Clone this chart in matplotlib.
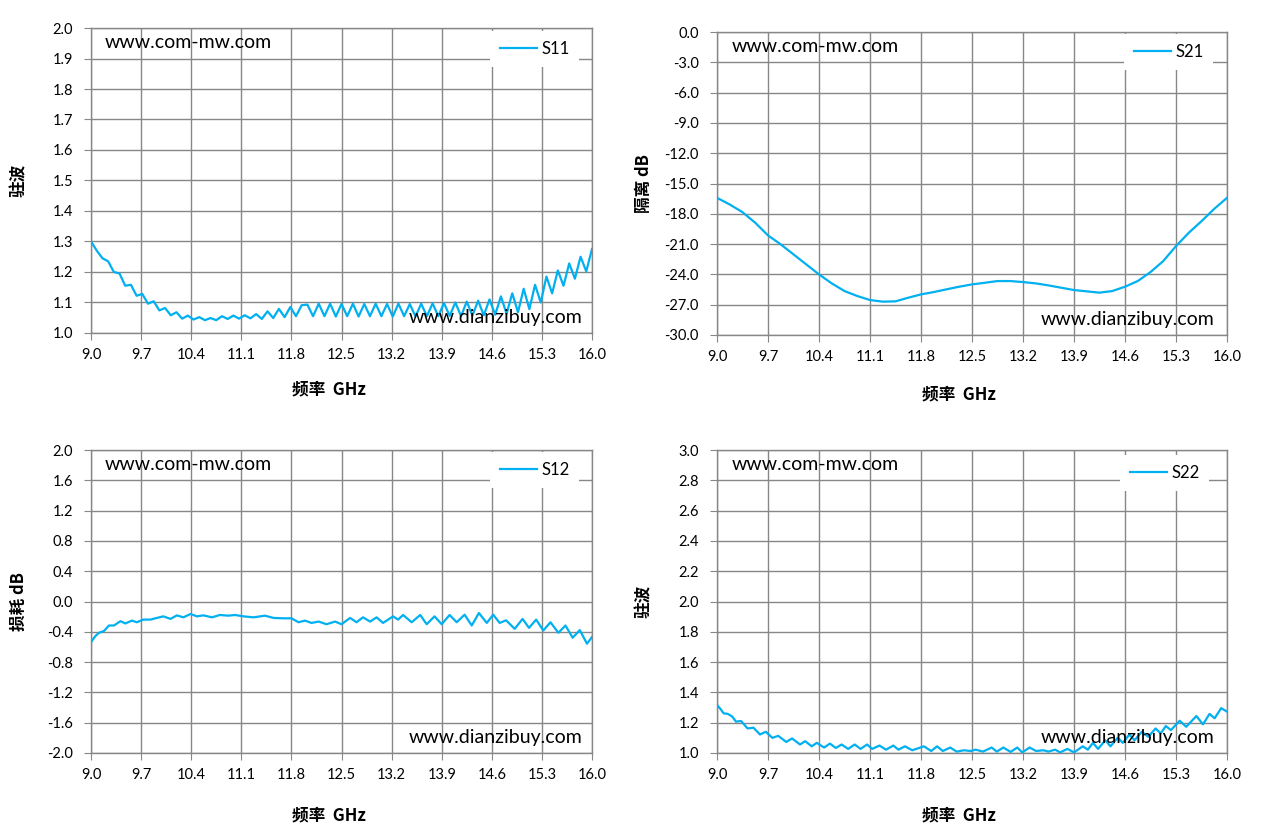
import matplotlib
matplotlib.use('Agg')
import matplotlib.pyplot as plt
import numpy as np

# 기본 글꼴: 라틴 문자는 Lato, 한자는 Noto Sans CJK
plt.rcParams['font.family'] = ['Lato', 'Noto Sans CJK SC', 'DejaVu Sans']

# x축 (주파수) 눈금
freq_ticks = [9.0, 9.7, 10.4, 11.1, 11.8, 12.5, 13.2, 13.9, 14.6, 15.3, 16.0]
freq_tick_labels = ['9.0', '9.7', '10.4', '11.1', '11.8', '12.5', '13.2',
                    '13.9', '14.6', '15.3', '16.0']

# S11 驻波 (uniform sweep)
s11_freq = np.linspace(9.0, 16.0, 89)
s11_vswr = [
    1.300, 1.270, 1.245, 1.235, 1.200, 1.195, 1.155, 1.158, 1.122, 1.128,
    1.096, 1.104, 1.074, 1.082, 1.058, 1.068, 1.047, 1.057, 1.044, 1.052,
    1.042, 1.049, 1.042, 1.055, 1.046, 1.057, 1.047, 1.058, 1.048, 1.062,
    1.046, 1.071, 1.049, 1.079, 1.052, 1.085, 1.055, 1.091, 1.093, 1.055,
    1.096, 1.055, 1.096, 1.054, 1.095, 1.055, 1.096, 1.054, 1.095, 1.055,
    1.096, 1.055, 1.095, 1.054, 1.096, 1.055, 1.095, 1.054, 1.096, 1.055,
    1.097, 1.055, 1.098, 1.056, 1.100, 1.055, 1.103, 1.057, 1.106, 1.058,
    1.110, 1.060, 1.120, 1.063, 1.130, 1.068, 1.145, 1.078, 1.158, 1.100,
    1.185, 1.130, 1.205, 1.155, 1.228, 1.178, 1.250, 1.202, 1.275,
]

# S21 隔离 dB
s21_freq = np.linspace(9.0, 16.0, 41)
s21_db = [
    -16.42, -17.08, -17.84, -18.89, -20.14, -21.03, -22.02, -23.01, -24.00, -24.89,
    -25.65, -26.14, -26.54, -26.70, -26.67, -26.31, -25.98, -25.75, -25.48, -25.22,
    -24.99, -24.83, -24.66, -24.66, -24.76, -24.89, -25.09, -25.32, -25.55, -25.68,
    -25.81, -25.65, -25.22, -24.66, -23.77, -22.68, -21.20, -19.88, -18.73, -17.51,
    -16.42,
]

# S12 损耗 dB (extrema)
s12_freq = [
    9.00, 9.06, 9.11, 9.18, 9.25, 9.32, 9.41, 9.48, 9.57, 9.64,
    9.73, 9.83, 9.92, 10.01, 10.11, 10.20, 10.29, 10.39, 10.48, 10.57,
    10.69, 10.80, 10.92, 11.01, 11.13, 11.27, 11.43, 11.55, 11.69, 11.80,
    11.90, 11.99, 12.08, 12.18, 12.29, 12.41, 12.50, 12.62, 12.71, 12.80,
    12.90, 12.99, 13.08, 13.22, 13.29, 13.36, 13.48, 13.60, 13.69, 13.80,
    13.90, 14.01, 14.11, 14.22, 14.32, 14.42, 14.53, 14.62, 14.71, 14.80,
    14.92, 15.03, 15.12, 15.22, 15.32, 15.42, 15.53, 15.63, 15.73, 15.83,
    15.93, 16.00,
]
s12_db = [
    -0.535, -0.457, -0.413, -0.390, -0.317, -0.317, -0.260, -0.290, -0.252, -0.274,
    -0.239, -0.239, -0.217, -0.196, -0.230, -0.183, -0.209, -0.165, -0.196, -0.183,
    -0.209, -0.178, -0.187, -0.178, -0.196, -0.209, -0.187, -0.217, -0.222, -0.222,
    -0.274, -0.252, -0.283, -0.265, -0.300, -0.265, -0.300, -0.217, -0.274, -0.209,
    -0.265, -0.209, -0.283, -0.196, -0.239, -0.178, -0.274, -0.178, -0.300, -0.196,
    -0.300, -0.178, -0.274, -0.174, -0.317, -0.152, -0.283, -0.174, -0.283, -0.248,
    -0.361, -0.230, -0.348, -0.239, -0.383, -0.274, -0.413, -0.317, -0.478, -0.378,
    -0.557, -0.470,
]

# S22 驻波
s22_freq = [
    9.00, 9.05, 9.09, 9.15, 9.21, 9.26, 9.33, 9.42, 9.50, 9.59,
    9.67, 9.76, 9.84, 9.95, 10.03, 10.14, 10.21, 10.30, 10.37, 10.47,
    10.55, 10.63, 10.71, 10.80, 10.89, 10.97, 11.06, 11.13, 11.23, 11.32,
    11.42, 11.49, 11.58, 11.68, 11.84, 11.94, 12.02, 12.10, 12.20, 12.29,
    12.39, 12.48, 12.55, 12.65, 12.77, 12.84, 12.93, 13.03, 13.12, 13.19,
    13.29, 13.38, 13.48, 13.55, 13.64, 13.71, 13.81, 13.90, 14.02, 14.09,
    14.16, 14.23, 14.33, 14.40, 14.50, 14.57, 14.66, 14.73, 14.83, 14.92,
    15.02, 15.09, 15.16, 15.23, 15.35, 15.44, 15.58, 15.67, 15.76, 15.83,
    15.92, 16.00,
]
s22_vswr = [
    1.318, 1.289, 1.262, 1.258, 1.240, 1.207, 1.211, 1.162, 1.167, 1.122,
    1.140, 1.100, 1.113, 1.073, 1.096, 1.056, 1.078, 1.044, 1.067, 1.036,
    1.062, 1.033, 1.056, 1.027, 1.056, 1.027, 1.056, 1.027, 1.049, 1.022,
    1.049, 1.022, 1.044, 1.018, 1.044, 1.013, 1.044, 1.013, 1.036, 1.009,
    1.018, 1.013, 1.022, 1.009, 1.036, 1.009, 1.036, 1.007, 1.036, 1.004,
    1.036, 1.013, 1.018, 1.009, 1.022, 1.004, 1.027, 1.004, 1.044, 1.022,
    1.067, 1.027, 1.084, 1.044, 1.100, 1.067, 1.122, 1.084, 1.140, 1.107,
    1.162, 1.129, 1.178, 1.151, 1.213, 1.173, 1.244, 1.189, 1.258, 1.229,
    1.296, 1.273,
]

# y축 눈금
s11_ticks = [1.0, 1.1, 1.2, 1.3, 1.4, 1.5, 1.6, 1.7, 1.8, 1.9, 2.0]
s11_tick_labels = ['1.0', '1.1', '1.2', '1.3', '1.4', '1.5', '1.6', '1.7', '1.8', '1.9', '2.0']
s21_ticks = [-30, -27, -24, -21, -18, -15, -12, -9, -6, -3, 0]
s21_tick_labels = ['-30.0', '-27.0', '-24.0', '-21.0', '-18.0', '-15.0', '-12.0',
                   '-9.0', '-6.0', '-3.0', '0.0']
s12_ticks = [-2.0, -1.6, -1.2, -0.8, -0.4, 0.0, 0.4, 0.8, 1.2, 1.6, 2.0]
s12_tick_labels = ['-2.0', '-1.6', '-1.2', '-0.8', '-0.4', '0.0', '0.4', '0.8', '1.2', '1.6', '2.0']
s22_ticks = [1.0, 1.2, 1.4, 1.6, 1.8, 2.0, 2.2, 2.4, 2.6, 2.8, 3.0]
s22_tick_labels = ['1.0', '1.2', '1.4', '1.6', '1.8', '2.0', '2.2', '2.4', '2.6', '2.8', '3.0']

LINE_COLOR = '#00B0F0'
GRID_COLOR = '#878787'
CJK = ['Noto Sans CJK SC', 'DejaVu Sans']


def draw_panel(ax, x, y, name, yticks, ylabels, ylabel, legend_xy, xlabel_y):
    ax.plot(x, y, color=LINE_COLOR, lw=1.6, label=name, zorder=3)
    ax.set_xlim(9.0, 16.0)
    ax.set_ylim(yticks[0], yticks[-1])
    ax.set_xticks(freq_ticks)
    ax.set_xticklabels(freq_tick_labels)
    ax.set_yticks(yticks)
    ax.set_yticklabels(ylabels)
    ax.set_axisbelow(True)
    ax.grid(True, color=GRID_COLOR, lw=1)
    for sp in ax.spines.values():
        sp.set_color(GRID_COLOR)
        sp.set_linewidth(1)
    ax.tick_params(axis='both', direction='out', length=5, color=GRID_COLOR,
                   labelsize=10.5, labelcolor='black')
    ax.tick_params(axis='y', pad=8)
    ax.tick_params(axis='x', pad=6)

    ax.set_ylabel(ylabel, family=CJK, fontweight='bold', fontsize=12)
    ax.yaxis.set_label_coords(-0.126, 0.5)
    ax.set_xlabel('频率  GHz', family=CJK, fontweight='bold', fontsize=12)
    ax.xaxis.set_label_coords(0.475, xlabel_y)

    # 워터마크
    ax.text(0.028, 0.952, 'www.com-mw.com', transform=ax.transAxes,
            fontsize=14, va='center', ha='left', zorder=6)
    ax.text(0.635, 0.05, 'www.dianzibuy.com', transform=ax.transAxes,
            fontsize=14, va='center', ha='left', zorder=6)

    leg = ax.legend(loc='center', bbox_to_anchor=legend_xy, fontsize=12,
                    frameon=True, fancybox=False, framealpha=1,
                    handlelength=2.2, handletextpad=0.25, borderpad=0.6)
    leg.get_frame().set_edgecolor('none')
    leg.get_frame().set_facecolor('white')


fig = plt.figure(figsize=(12.63, 8.36), dpi=100)

ax1 = fig.add_axes([0.0721, 0.6017, 0.3966, 0.3648])
ax2 = fig.add_axes([0.5677, 0.5993, 0.4038, 0.3624])
ax3 = fig.add_axes([0.0721, 0.0993, 0.3966, 0.3624])
ax4 = fig.add_axes([0.5677, 0.0993, 0.4038, 0.3624])

draw_panel(ax1, s11_freq, s11_vswr, 'S11', s11_ticks, s11_tick_labels, '驻波',
           (0.886, 0.931), -0.157)
draw_panel(ax2, s21_freq, s21_db, 'S21', s21_ticks, s21_tick_labels, '隔离 dB',
           (0.886, 0.934), -0.165)
draw_panel(ax3, s12_freq, s12_db, 'S12', s12_ticks, s12_tick_labels, '损耗 dB',
           (0.886, 0.934), -0.178)
draw_panel(ax4, s22_freq, s22_vswr, 'S22', s22_ticks, s22_tick_labels, '驻波',
           (0.878, 0.924), -0.178)

fig.savefig('out.png', dpi=100)
